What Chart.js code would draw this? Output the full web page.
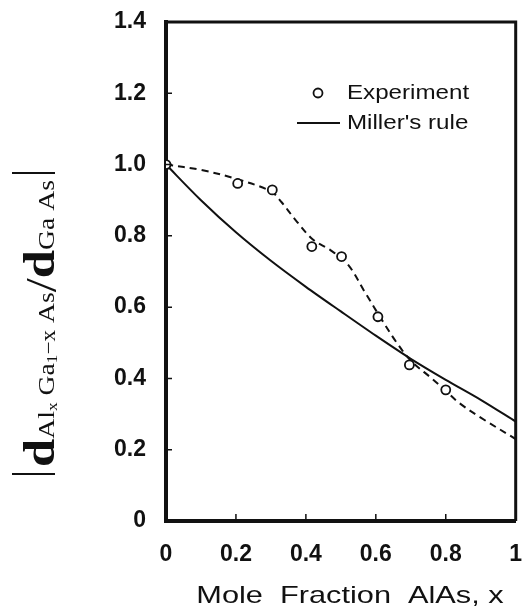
<!DOCTYPE html>
<html>
<head>
<meta charset="utf-8">
<script src="https://cdn.jsdelivr.net/npm/chart.js@4.4.1/dist/chart.umd.min.js"></script>
<style>
  html, body { margin: 0; padding: 0; background: #fff; }
  canvas { display: block; }
</style>
</head>
<body>
<canvas id="chart" width="522" height="610"></canvas>
<script>
// Measured relative layer spacing of Al(x)Ga(1-x)As versus AlAs mole fraction
const expX = [0, 0.205, 0.304, 0.417, 0.502, 0.606, 0.696, 0.80];
const expY = [1.0, 0.947, 0.929, 0.770, 0.742, 0.573, 0.438, 0.368];

// Dashed guide through the measurements
const fitX = [0, 0.1, 0.2, 0.3, 0.33, 0.37, 0.42, 0.47, 0.52, 0.57, 0.62, 0.66, 0.7, 0.76, 0.8, 0.84, 0.9, 1.0];
const fitY = [1.0, 0.985, 0.96, 0.925, 0.895, 0.845, 0.79, 0.76, 0.72, 0.64, 0.56, 0.50, 0.45, 0.40, 0.365, 0.33, 0.29, 0.23];

// Miller's rule prediction
const millerX = [0, 0.1, 0.2, 0.3, 0.4, 0.5, 0.6, 0.7, 0.8, 0.9, 1.0];
const millerY = [1.0, 0.90, 0.81, 0.73, 0.657, 0.588, 0.52, 0.455, 0.396, 0.34, 0.279];

const xTickValues = [0, 0.2, 0.4, 0.6, 0.8, 1];
const yTickValues = [0, 0.2, 0.4, 0.6, 0.8, 1.0, 1.2, 1.4];

const seriesNames = ['Experiment', "Miller's rule"];
const xTitle = 'Mole  Fraction  AlAs, x';

const INK = '#111';
const SANS = '"Liberation Sans", Arial, Helvetica, sans-serif';
const SERIF = '"Liberation Serif", "Times New Roman", serif';

const toPoints = (xs, ys) => xs.map((x, i) => ({ x, y: ys[i] }));

// Frame, inward tick marks, legend and axis titles
const decorations = {
  id: 'decorations',
  afterDraw(chart) {
    const { ctx, chartArea: a, scales } = chart;
    const xs = scales.x, ys = scales.y;
    ctx.save();
    ctx.strokeStyle = INK;
    ctx.fillStyle = INK;

    // top and right edges of the frame
    ctx.lineWidth = 3;
    ctx.beginPath();
    ctx.moveTo(a.left, a.top); ctx.lineTo(a.right, a.top);
    ctx.moveTo(a.right, a.top - 1.5); ctx.lineTo(a.right, a.bottom);
    ctx.stroke();

    // short inward ticks
    ctx.lineWidth = 1.5;
    ctx.beginPath();
    yTickValues.forEach(v => {
      if (v <= 0 || v >= 1.4) return;
      const py = ys.getPixelForValue(v);
      ctx.moveTo(a.left, py); ctx.lineTo(a.left + 6, py);
    });
    xTickValues.forEach(v => {
      if (v <= 0 || v >= 1) return;
      const px = xs.getPixelForValue(v);
      ctx.moveTo(px, a.bottom); ctx.lineTo(px, a.bottom - 7);
    });
    ctx.stroke();

    // legend
    const expSet = chart.data.datasets[0];
    const milSet = chart.data.datasets[2];
    const stretch = 1.15;
    const drawText = (txt, x, y, font, sx) => {
      ctx.save();
      ctx.translate(x, y);
      ctx.scale(sx, 1);
      ctx.font = font;
      ctx.textBaseline = 'middle';
      ctx.textAlign = 'left';
      ctx.fillText(txt, 0, 0);
      ctx.restore();
    };
    ctx.lineWidth = expSet.pointBorderWidth;
    ctx.fillStyle = '#fff';
    ctx.beginPath();
    ctx.arc(318, 93, expSet.pointRadius, 0, Math.PI * 2);
    ctx.fill(); ctx.stroke();
    ctx.fillStyle = INK;
    drawText(expSet.label, 347, 93, '21px ' + SANS, stretch);
    ctx.lineWidth = milSet.borderWidth;
    ctx.beginPath();
    ctx.moveTo(297, 123); ctx.lineTo(340, 123);
    ctx.stroke();
    drawText(milSet.label, 347, 123, '21px ' + SANS, stretch);

    // x axis title
    ctx.save();
    ctx.font = '24px ' + SANS;
    const tw = ctx.measureText(xTitle).width;
    const sx = 1.28;
    ctx.translate(350 - tw * sx / 2, 596);
    ctx.scale(sx, 1);
    ctx.textBaseline = 'middle';
    ctx.fillText(xTitle, 0, 0);
    ctx.restore();

    // y axis title: |d_{AlxGa1-xAs} / d_{GaAs}|
    const parts = [
      { t: 'd', f: 'bold 44px ' + SERIF, dy: 0 },
      { t: 'Al', f: '24px ' + SERIF, dy: 0 },
      { t: 'x', f: '15px ' + SERIF, dy: 3 },
      { t: ' Ga', f: '24px ' + SERIF, dy: 0 },
      { t: '1', f: '15px ' + SERIF, dy: 3 },
      { t: '\u2212x', f: '20px ' + SERIF, dy: 1 },
      { t: ' As', f: '24px ' + SERIF, dy: 0 },
      { t: '/', f: '44px ' + SERIF, dy: 2 },
      { t: 'd', f: 'bold 44px ' + SERIF, dy: 0 },
      { t: 'Ga As', f: '24px ' + SERIF, dy: 0 }
    ];
    const span = 303;
    ctx.save();
    ctx.translate(54, 475);
    ctx.rotate(-Math.PI / 2);
    ctx.lineWidth = 2.2;
    ctx.beginPath();
    ctx.moveTo(1, 1); ctx.lineTo(1, -42);
    ctx.moveTo(span - 1, 1); ctx.lineTo(span - 1, -42);
    ctx.stroke();
    const widths = parts.map(p => { ctx.font = p.f; return ctx.measureText(p.t).width; });
    const total = widths.reduce((s, w) => s + w, 0);
    const k = (span - 16) / total;
    let cx = 8;
    ctx.textBaseline = 'alphabetic';
    parts.forEach((p, i) => {
      ctx.save();
      ctx.translate(cx, p.dy);
      ctx.scale(k, 1);
      ctx.font = p.f;
      ctx.fillText(p.t, 0, 0);
      ctx.restore();
      cx += widths[i] * k;
    });
    ctx.restore();

    ctx.restore();
  }
};

new Chart(document.getElementById('chart'), {
  type: 'scatter',
  data: {
    datasets: [
      {
        label: seriesNames[0],
        data: toPoints(expX, expY),
        showLine: false,
        pointStyle: 'circle',
        pointRadius: 4.5,
        pointBorderWidth: 1.8,
        pointBackgroundColor: '#fff',
        pointBorderColor: INK,
        order: 0
      },
      {
        label: 'guide',
        data: toPoints(fitX, fitY),
        showLine: true,
        borderColor: INK,
        borderWidth: 2,
        borderDash: [7, 5],
        pointRadius: 0,
        tension: 0.35,
        order: 2
      },
      {
        label: seriesNames[1],
        data: toPoints(millerX, millerY),
        showLine: true,
        borderColor: INK,
        borderWidth: 2,
        pointRadius: 0,
        tension: 0.3,
        order: 1
      }
    ]
  },
  options: {
    responsive: false,
    animation: false,
    layout: { padding: { top: 22, right: 3, left: 0, bottom: 0 } },
    plugins: { legend: { display: false }, tooltip: { enabled: false } },
    scales: {
      x: {
        type: 'linear',
        min: 0, max: 1,
        grid: { display: true, drawOnChartArea: false, drawTicks: false },
        border: { display: true, color: INK, width: 4 },
        afterBuildTicks: s => { s.ticks = xTickValues.map(v => ({ value: v })); },
        afterFit: s => { s.height = 89; s.paddingLeft = 0; s.paddingRight = 0; },
        ticks: {
          color: INK,
          padding: 20,
          maxRotation: 0,
          font: { family: SANS, size: 23, weight: 'bold' },
          callback: v => (v === 0 ? '0' : v === 1 ? '1' : v.toFixed(1))
        }
      },
      y: {
        type: 'linear',
        min: 0, max: 1.4,
        grid: { display: true, drawOnChartArea: false, drawTicks: false },
        border: { display: true, color: INK, width: 4 },
        afterBuildTicks: s => { s.ticks = yTickValues.map(v => ({ value: v })); },
        afterFit: s => { s.width = 166; s.paddingTop = 0; s.paddingBottom = 0; },
        ticks: {
          color: INK,
          padding: 20,
          font: { family: SANS, size: 23, weight: 'bold' },
          callback: v => (v === 0 ? '0' : v.toFixed(1))
        }
      }
    }
  },
  plugins: [decorations]
});
</script>
</body>
</html>
